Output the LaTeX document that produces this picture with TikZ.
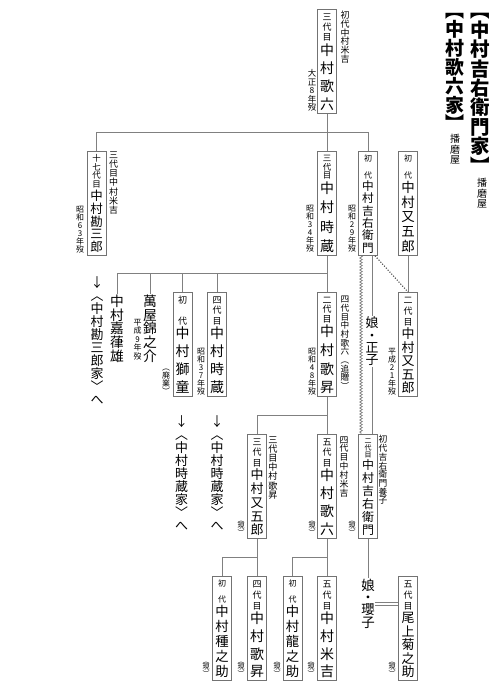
\documentclass[tikz,border=0pt]{standalone}
\usepackage{fontspec}
\setmainfont{Noto Sans CJK JP}
\usetikzlibrary{decorations.pathmorphing}
\newdimen\cw \cw=19bp
\newdimen\bh \bh=104bp
\def\sg{0pt}
\def\ch#1{\hbox to\cw{\hss\vrule height.88em depth.12em width0pt\smash{#1}\hss}}
\def\vs#1{\ch{#1}\vsn}
\def\vsn#1{\ifx#1\relax\else\vskip\sg\ch{#1}\expandafter\vsn\fi}
\def\vf#1{\ch{#1}\vfn}
\def\vfn#1{\ifx#1\relax\else\vfill\ch{#1}\expandafter\vfn\fi}
% box content: small size, small gap, small chars, gap, large size, large chars
\newcommand\bx[6]{\vbox to\bh{\offinterlineskip\vskip3bp
 {\fontsize{#1}{#1}\selectfont\def\sg{#2}\vs#3\relax}%
 \vskip#4
 {\fontsize{#5}{#5}\selectfont\vf#6\relax}%
 \vskip2bp}}
% free vertical label: size, gap, chars
\newcommand\lb[3]{\vbox{\offinterlineskip\fontsize{#1}{#1}\selectfont\cw=1em\def\sg{#2}\vs#3\relax}}
% title: size, gap, chars (between lenticular brackets)
\newcommand\tl[3]{\vbox{\offinterlineskip\fontsize{#1}{#1}\selectfont\cw=1em\def\sg{#2}%
 \ch{︻}\vs#3\relax\ch{︼}}}
\definecolor{lncol}{gray}{0.5}
\definecolor{bxcol}{gray}{0.45}
\tikzset{
 bxs/.style={draw=bxcol,line width=0.8bp,inner sep=0pt,anchor=north,fill=white},
 lab/.style={inner sep=0pt},
 ln/.style={draw=lncol,line width=0.9bp},
 wavy/.style={draw=lncol,line width=0.7bp,decorate,decoration={zigzag,amplitude=1.3bp,segment length=3bp}},
 dots/.style={draw=black!70,line width=1.1bp,dash pattern=on 1.1bp off 1.6bp},
 dbl/.style={draw=lncol,line width=1.2bp,double=white,double distance=1.3bp}
}
\begin{document}
\begin{tikzpicture}[x=1bp,y=-1bp]
\useasboundingbox[fill=white] (0,0) rectangle (504,700);
% titles
\node[lab,anchor=north] (t1) at (480,0.5) {\bfseries\tl{19.5}{0bp}{中村吉右衛門家}};
\node[lab,anchor=north] (t1s) at (482,178) {\lb{10}{0.5bp}{播磨屋}};
\node[lab,anchor=north] (t2) at (455,0.5) {\bfseries\tl{19}{0bp}{中村歌六家}};
\node[lab,anchor=north] (t2s) at (455,134) {\lb{10}{0.5bp}{播磨屋}};
% junction coordinates
\coordinate (j1) at (0,132);
\coordinate (j2) at (0,273);
\coordinate (j3) at (0,415);
\coordinate (j4) at (0,557);
\coordinate (mj) at (0,604);
\coordinate (wv) at (361,0);
% row 1
\node[bxs] (A) at (327,9) {\bx{9}{1bp}{三代目}{2bp}{14}{中村歌六}};
\node[lab,anchor=north] (Ar) at (345,10) {\lb{9}{0bp}{初代中村米吉}};
\node[lab,anchor=south] (Al) at (312,112) {\lb{8.5}{0bp}{大正8年歿}};
% row 2
\node[bxs] (K) at (96.5,151) {\bx{8.5}{0bp}{十七代目}{1bp}{12.5}{中村勘三郎}};
\node[lab,anchor=north] (Kr) at (113.5,150) {\lb{9}{0.3bp}{三代目中村米吉}};
\node[lab,anchor=south] (Kl) at (80,254) {\lb{8}{0bp}{昭和63年歿}};
\node[bxs] (T) at (327,151) {\bx{8.5}{0bp}{三代目}{1bp}{14}{中村時蔵}};
\node[lab,anchor=south] (Tl) at (310,253) {\lb{8}{0bp}{昭和34年歿}};
\node[bxs] (Y) at (368,151) {\bx{8}{9bp}{初代}{1bp}{11.7}{中村吉右衛門}};
\node[lab,anchor=south] (Yl) at (352,253) {\lb{8}{0bp}{昭和29年歿}};
\node[bxs] (M) at (408,151) {\bx{8}{9bp}{初代}{1bp}{13.5}{中村又五郎}};
% row 3
\node[lab,anchor=north] (KG) at (117,294) {\lb{13.8}{0bp}{中村嘉葎雄}};
\node[lab,anchor=north] (NK) at (150,294) {\lb{13.8}{0bp}{萬屋錦之介}};
\node[lab,anchor=north] (NKl) at (137.5,318) {\lb{8}{0.6bp}{平成9年歿}};
\node[bxs] (S) at (182.5,292) {\bx{9}{12bp}{初代}{1bp}{14}{中村獅童}};
\node[lab,anchor=south] (Sl) at (166,396) {\lb{8}{0bp}{︵廃業︶}};
\node[bxs] (T4) at (217,292) {\bx{9}{1.5bp}{四代目}{1bp}{14}{中村時蔵}};
\node[lab,anchor=south] (T4l) at (201,396) {\lb{8}{0bp}{昭和37年歿}};
\node[bxs] (U) at (327,292) {\bx{9}{0.5bp}{二代目}{1bp}{14}{中村歌昇}};
\node[lab,anchor=north] (Ur) at (345,295) {\lb{8.7}{0bp}{四代目中村歌六︵追贈︶}};
\node[lab,anchor=south] (Ul) at (312,396) {\lb{8}{0bp}{昭和48年歿}};
\node[bxs] (M2) at (408,292) {\bx{9}{2bp}{二代目}{1bp}{13}{中村又五郎}};
\node[lab,anchor=south] (M2l) at (392,396) {\lb{8}{0bp}{平成21年歿}};
\node[lab,anchor=north] (MS) at (372,316) {\lb{13}{-0.5bp}{娘・正子}};
\node[lab,anchor=north] (KZ) at (97,276) {\lb{13}{0bp}{↓︿中村勘三郎家﹀へ}};
% row 4
\node[lab,anchor=north] (TZ1) at (181.5,415) {\lb{13}{0bp}{↓︿中村時蔵家﹀へ}};
\node[lab,anchor=north] (TZ2) at (217,415) {\lb{13}{0bp}{↓︿中村時蔵家﹀へ}};
\node[bxs] (M3) at (257,434) {\bx{9}{1.5bp}{三代目}{1bp}{13}{中村又五郎}};
\node[lab,anchor=north] (M3r) at (273,435) {\lb{9.2}{0bp}{三代目中村歌昇}};
\node[lab,anchor=south] (M3l) at (241,537) {\lb{7}{0bp}{︵現︶}};
\node[bxs] (R) at (327,434) {\bx{9}{1.5bp}{五代目}{1bp}{14}{中村歌六}};
\node[lab,anchor=north] (Rr) at (344,435) {\lb{8.9}{0bp}{四代目中村米吉}};
\node[lab,anchor=south] (Rl) at (312,537) {\lb{7}{0bp}{︵現︶}};
\node[bxs] (Y2) at (368,434) {\bx{7}{0bp}{二代目}{1bp}{12}{中村吉右衛門}};
\node[lab,anchor=north] (Y2r) at (383,435) {\lb{8.75}{0bp}{初代吉右衛門養子}};
\node[lab,anchor=south] (Y2l) at (352,537) {\lb{7}{0bp}{︵現︶}};
% row 5
\node[bxs] (B1) at (222,576) {\bx{8}{8bp}{初代}{1bp}{13.4}{中村種之助}};
\node[lab,anchor=south] (B1l) at (206,678) {\lb{7}{0bp}{︵現︶}};
\node[bxs] (B2) at (257,576) {\bx{9}{2bp}{四代目}{1bp}{14}{中村歌昇}};
\node[lab,anchor=south] (B2l) at (241,678) {\lb{7}{0bp}{︵現︶}};
\node[bxs] (B3) at (292.5,576) {\bx{8}{8bp}{初代}{1bp}{13.4}{中村龍之助}};
\node[lab,anchor=south] (B3l) at (277,678) {\lb{7}{0bp}{︵現︶}};
\node[bxs] (B4) at (327,576) {\bx{9}{2bp}{五代目}{1bp}{14}{中村米吉}};
\node[lab,anchor=south] (B4l) at (311,678) {\lb{7}{0bp}{︵現︶}};
\node[bxs] (KB) at (408,576) {\bx{9}{2bp}{五代目}{1bp}{13}{尾上菊之助}};
\node[lab,anchor=south] (KBl) at (392,678) {\lb{7}{0bp}{︵現︶}};
\node[lab,anchor=north] (EK) at (368,578) {\lb{13.5}{-1bp}{娘・瓔子}};
% connectors
\draw[ln] (A.south) -- (T.north);
\draw[ln] (K.north) -- (K.north |- j1) -- (Y.north |- j1) -- (Y.north);
\draw[ln] (T.south) -- (U.north);
\draw[ln] (KG.north) -- (KG.north |- j2) -- (T.south |- j2);
\draw[ln] (NK.north) -- (NK.north |- j2);
\draw[ln] (S.north) -- (S.north |- j2);
\draw[ln] (T4.north) -- (T4.north |- j2);
\draw[ln] (M.south) -- (M2.north);
\draw[ln] (Y.south -| MS.north) -- (MS.north);
\draw[ln] (MS.south) -- (MS.south |- Y2.north);
\draw[wavy] (Y.south -| wv) -- (Y2.north -| wv);
\draw[dots] ([xshift=3bp]Y.south -| MS.north) -- (M2.north);
\draw[ln] (U.south) -- (R.north);
\draw[ln] (M3.north) -- (M3.north |- j3) -- (U.south |- j3);
\draw[ln] (M3.south) -- (B2.north);
\draw[ln] (B1.north) -- (B1.north |- j4) -- (M3.south |- j4);
\draw[ln] (R.south) -- (B4.north);
\draw[ln] (B3.north) -- (B3.north |- j4) -- (R.south |- j4);
\draw[ln] (Y2.south) -- (EK.north);
\draw[dbl] (EK.east |- mj) -- (KB.west |- mj);
\end{tikzpicture}
\end{document}
